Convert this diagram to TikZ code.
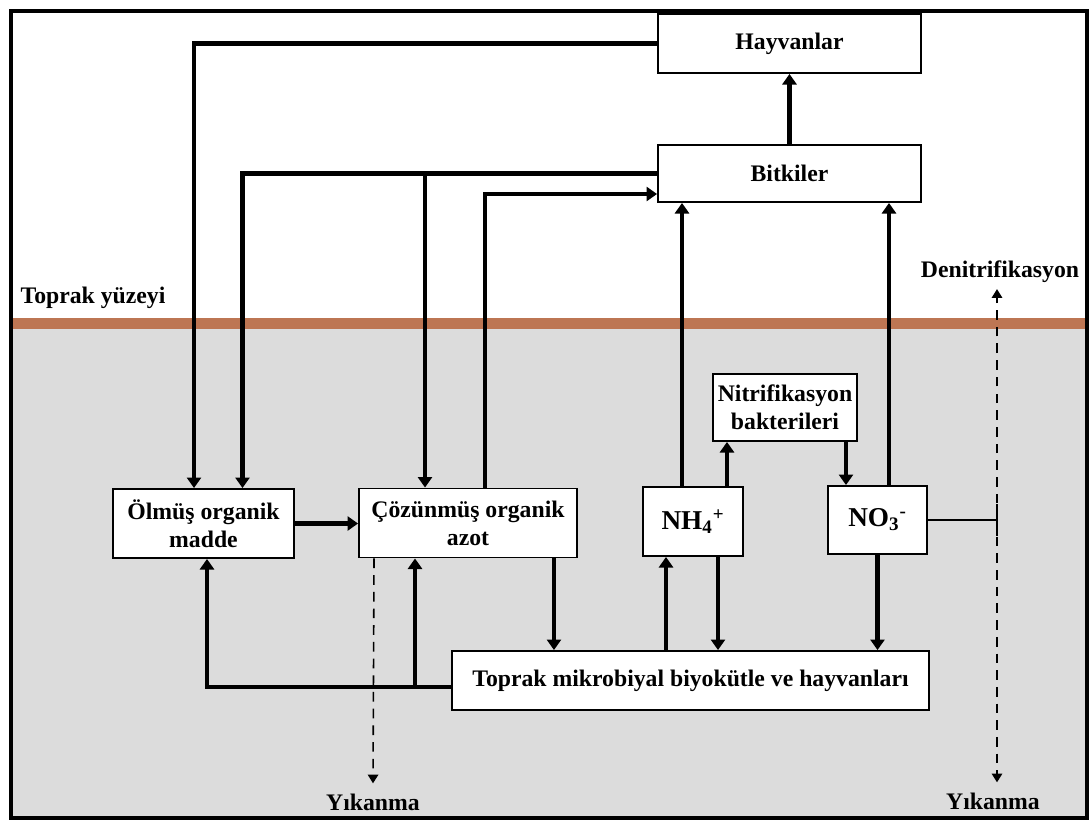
\documentclass[tikz,border=0pt]{standalone}
\usepackage{fontspec}
\setmainfont{Liberation Serif}
\usetikzlibrary{arrows.meta}
\definecolor{soilbrown}{RGB}{189,118,83}
\definecolor{soilgray}{RGB}{220,220,220}

\begin{document}
\begin{tikzpicture}[x=0.02cm,y=-0.02cm,
  box/.style={draw,line width=1.1pt,fill=white,align=center,inner sep=0pt,
    font=\fontsize{13.5}{16}\selectfont\bfseries},
  ion/.style={box,font=\fontsize{15.5}{18}\selectfont\bfseries},
  flow/.style={line width=2.3pt,-{Triangle[width=8pt,length=6pt]}},
  link/.style={line width=2.3pt},
  leach/.style={line width=0.9pt,dash pattern=on 5.5pt off 4pt,-{Triangle[width=6pt,length=5pt]}},
  lbl/.style={font=\fontsize{13.5}{16}\selectfont\bfseries}]
\useasboundingbox (0,0) rectangle (1092,822);
% soil and frame
\fill[soilgray] (11,329) rectangle (1087,818);
\fill[soilbrown] (11,318) rectangle (1087,329);
\draw[line width=2.3pt] (11,11) rectangle (1087,818);
\node[lbl] (surface) at (93,298) {Toprak yüzeyi};

% boxes
\node[box,minimum width=5.26cm,minimum height=1.18cm] (hayv) at (789.5,43.5) {Hayvanlar};
\node[box,minimum width=5.26cm,minimum height=1.14cm] (bitk) at (789.5,173.5) {Bitkiler};
\node[box,minimum width=3.62cm,minimum height=1.38cm] (olmus) at (203.5,523.5) {Ölmüş organik\\madde};
\node[box,minimum width=4.36cm,minimum height=1.38cm] (cozun) at (468,523) {Çözünmüş organik\\azot};
\node[ion,minimum width=2cm,minimum height=1.38cm] (nh4) at (693,521.5) {NH\textsubscript{4}\textsuperscript{+}};
\node[ion,minimum width=1.98cm,minimum height=1.36cm] (no3) at (877.5,520) {NO\textsubscript{3}\textsuperscript{-}};
\node[box,minimum width=2.88cm,minimum height=1.34cm] (nitri) at (785,407.5) {Nitrifikasyon\\bakterileri};
\node[box,minimum width=9.54cm,minimum height=1.18cm] (toprak) at (690.5,680.5) {Toprak mikrobiyal biyokütle ve hayvanları};

% labels
\node[lbl] (denit) at (1000,272) {Denitrifikasyon};
\node[lbl,inner sep=0.2cm] (yik1) at (373,802) {Yıkanma};
\node[lbl,inner sep=0.2cm] (yik2) at (993,801) {Yıkanma};
\coordinate (tee) at (997,520);

% above ground
\draw[flow] (hayv.west) -| ([xshift=-0.19cm]olmus.north);
\draw[flow] (bitk.west) -| ([xshift=0.78cm]olmus.north);
\draw[flow] ([xshift=-0.86cm]cozun.north |- bitk.west) -- ([xshift=-0.86cm]cozun.north);
\draw[flow] ([xshift=0.34cm]cozun.north) |- ([yshift=-0.41cm]bitk.west);
\draw[flow] (bitk.north) -- (hayv.south);
\draw[flow] ([xshift=-0.22cm]nh4.north) -- ([xshift=-0.22cm]nh4.north |- bitk.south);
\draw[flow] ([xshift=0.23cm]no3.north) -- ([xshift=0.23cm]no3.north |- bitk.south);

% nitrification
\draw[flow] ([xshift=0.68cm]nh4.north) -- ([xshift=0.68cm]nh4.north |- nitri.south);
\draw[flow] ([xshift=1.22cm]nitri.south) -- ([xshift=1.22cm]nitri.south |- no3.north);

% soil exchanges
\draw[flow] (olmus.east) -- (olmus.east -| cozun.west);
\draw[flow] ([xshift=1.72cm]cozun.south) -- ([xshift=1.72cm]cozun.south |- toprak.north);
\draw[flow] ([xshift=-0.54cm]nh4.south |- toprak.north) -- ([xshift=-0.54cm]nh4.south);
\draw[flow] ([xshift=0.5cm]nh4.south) -- ([xshift=0.5cm]nh4.south |- toprak.north);
\draw[flow] (no3.south) -- (no3.south |- toprak.north);
\draw[flow] ([yshift=-0.13cm]toprak.west) -| ([xshift=0.07cm]olmus.south);
\draw[flow] ([xshift=-1.06cm]cozun.south |- 0,687) -- ([xshift=-1.06cm]cozun.south);

% losses
\draw[leach] ([xshift=-1.88cm]cozun.south) -- (yik1.north);
\draw[line width=0.8pt] (no3.east) -- (no3.east -| tee);
\draw[line width=1.2pt] ([yshift=0.32cm]tee) -- ([yshift=-0.32cm]tee);
\draw[leach] (tee) -- (tee |- denit.south);
\draw[leach] (tee) -- (tee |- yik2.north);
\end{tikzpicture}
\end{document}
